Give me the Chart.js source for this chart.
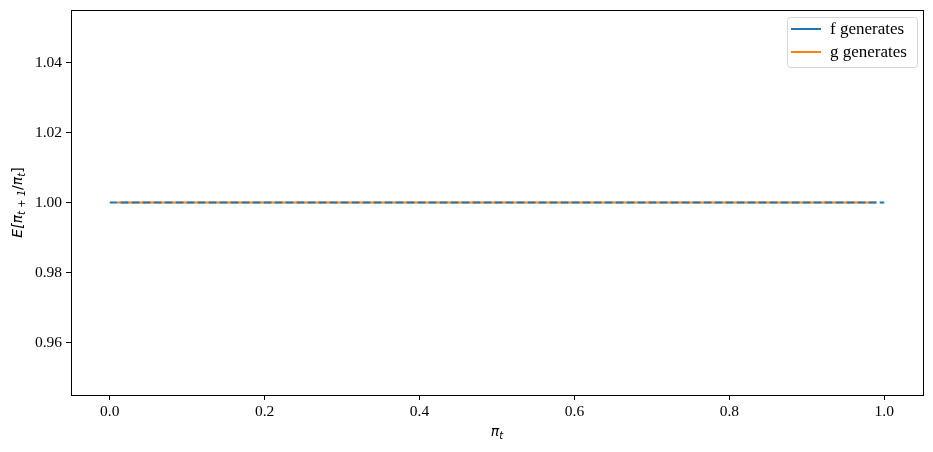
<!DOCTYPE html>
<html>
<head>
<meta charset="utf-8">
<script src="https://cdn.jsdelivr.net/npm/chart.js@4"></script>
<style>
  html, body { margin: 0; padding: 0; background: #fff; }
  #wrap { width: 933px; height: 452px; }
</style>
</head>
<body>
<div id="wrap"><canvas id="ratioChart" width="933" height="452"></canvas></div>
<script>
// values
const piF = [0.0, 0.5, 1.0];          // pi_t where f generates
const ratioF = [1.0, 1.0, 1.0];       // E[pi_{t+1}/pi_t]
const piG = [0.01, 0.5, 0.99];        // pi_t where g generates
const ratioG = [1.0, 1.0, 1.0];
const xTicks = [0.0, 0.2, 0.4, 0.6, 0.8, 1.0];
const yTicks = [0.96, 0.98, 1.00, 1.02, 1.04];
const seriesNames = ['f generates', 'g generates'];
const seriesColors = ['#1f77b4', '#ff7f0e'];

const tickFont = { family: 'Liberation Serif', size: 15.5 };

// draws frame, axis titles (with subscripts) and the legend box, matplotlib style
const extras = {
  id: 'extras',
  afterDraw(chart) {
    const ctx = chart.ctx;
    const a = chart.chartArea;
    ctx.save();
    // full box around the plot area
    ctx.strokeStyle = '#000';
    ctx.lineWidth = 1;
    ctx.strokeRect(Math.round(a.left) + 0.5, Math.round(a.top) + 0.5,
                   Math.round(a.right - a.left), Math.round(a.bottom - a.top));

    ctx.fillStyle = '#000';
    ctx.textBaseline = 'alphabetic';

    // x title: pi_t
    let cx = (a.left + a.right) / 2;
    ctx.font = 'italic 14px "DejaVu Sans"';
    const wPi = ctx.measureText('π').width;
    ctx.font = 'italic 10px "DejaVu Sans"';
    const wT = ctx.measureText('t').width;
    let x0 = cx - (wPi + wT) / 2;
    ctx.font = 'italic 14px "DejaVu Sans"';
    ctx.fillText('π', x0, 436);
    ctx.font = 'italic 10px "DejaVu Sans"';
    ctx.fillText('t', x0 + wPi, 439);

    // y title: E[pi_{t+1}/pi_t], rotated
    ctx.translate(22, (a.top + a.bottom) / 2);
    ctx.rotate(-Math.PI / 2);
    const parts = [
      ['E[', 'italic 14px "DejaVu Sans"', 0],
      ['π', 'italic 14px "DejaVu Sans"', 0],
      ['t + 1', 'italic 10px "DejaVu Sans"', 3],
      ['/', '14px "DejaVu Sans"', 0],
      ['π', 'italic 14px "DejaVu Sans"', 0],
      ['t', 'italic 10px "DejaVu Sans"', 3],
      [']', '14px "DejaVu Sans"', 0]
    ];
    let total = 0;
    parts.forEach(p => { ctx.font = p[1]; total += ctx.measureText(p[0]).width; });
    let px = -total / 2;
    parts.forEach(p => {
      ctx.font = p[1];
      ctx.fillText(p[0], px, p[2]);
      px += ctx.measureText(p[0]).width;
    });
    ctx.restore();

    // legend
    ctx.save();
    const lx = 787, ly = 17, lw = 130, lh = 50;
    ctx.fillStyle = 'rgba(255,255,255,0.8)';
    ctx.strokeStyle = '#d6d6d6';
    ctx.lineWidth = 1;
    ctx.beginPath();
    ctx.roundRect(lx + 0.5, ly + 0.5, lw, lh, 3);
    ctx.fill();
    ctx.stroke();
    ctx.font = '17px "Liberation Serif"';
    ctx.textBaseline = 'middle';
    seriesNames.forEach((name, i) => {
      const yy = 29 + i * 23;
      ctx.strokeStyle = seriesColors[i];
      ctx.lineWidth = 2;
      ctx.beginPath();
      ctx.moveTo(791, yy);
      ctx.lineTo(821, yy);
      ctx.stroke();
      ctx.fillStyle = '#000';
      ctx.fillText(name, 830, yy + 1);
    });
    ctx.restore();
  }
};

new Chart(document.getElementById('ratioChart').getContext('2d'), {
  type: 'line',
  data: {
    datasets: [{
      label: seriesNames[0],
      data: piF.map((p, i) => ({ x: p, y: ratioF[i] })),
      borderColor: seriesColors[0],
      borderWidth: 2,
      borderDash: [7.7, 3.3],
      pointRadius: 0,
      fill: false
    }, {
      label: seriesNames[1],
      data: piG.map((p, i) => ({ x: p, y: ratioG[i] })),
      borderColor: seriesColors[1],
      borderWidth: 2,
      pointRadius: 0,
      fill: false
    }]
  },
  options: {
    responsive: false,
    animation: false,
    layout: { padding: { top: 10, right: 10, left: 0, bottom: 0 } },
    plugins: { legend: { display: false }, tooltip: { enabled: false } },
    scales: {
      x: {
        type: 'linear',
        min: -0.05, max: 1.05,
        afterBuildTicks: s => { s.ticks = xTicks.map(v => ({ value: v })); },
        afterFit: s => { s.height = 57; s.paddingLeft = 0; s.paddingRight = 0; },
        ticks: { color: '#000', font: tickFont, padding: 3, maxRotation: 0,
                 callback: v => v.toFixed(1) },
        grid: { drawOnChartArea: false, tickLength: 5, color: '#000', tickColor: '#000' },
        border: { display: false }
      },
      y: {
        min: 0.945, max: 1.055,
        afterBuildTicks: s => { s.ticks = yTicks.map(v => ({ value: v })); },
        afterFit: s => { s.width = 71; s.paddingTop = 0; s.paddingBottom = 0; },
        ticks: { color: '#000', font: tickFont, padding: 4,
                 callback: v => v.toFixed(2) },
        grid: { drawOnChartArea: false, tickLength: 5, color: '#000', tickColor: '#000' },
        border: { display: false }
      }
    }
  },
  plugins: [extras]
});
</script>
</body>
</html>
